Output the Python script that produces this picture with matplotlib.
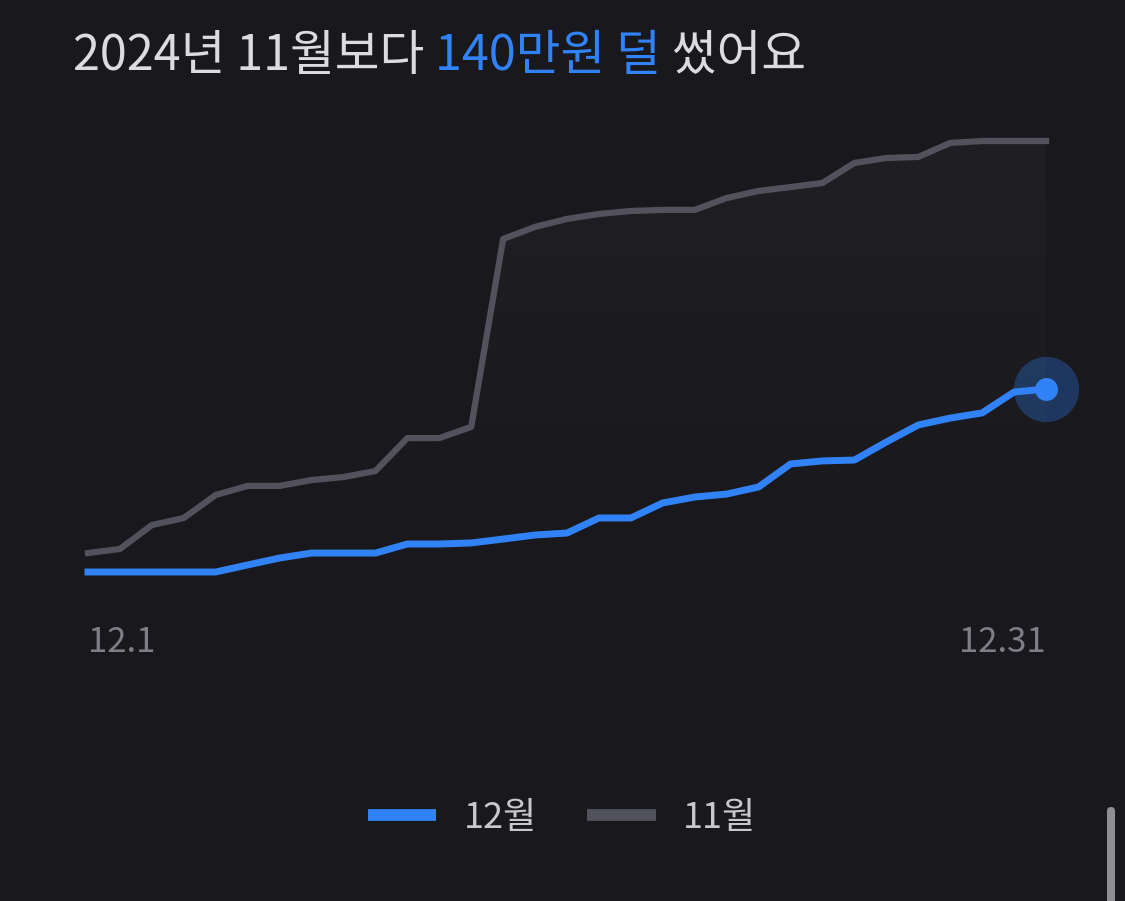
import matplotlib.pyplot as plt
import numpy as np
from matplotlib.colors import LinearSegmentedColormap
from matplotlib.patches import Polygon, FancyBboxPatch
from matplotlib.lines import Line2D
from matplotlib.transforms import IdentityTransform

plt.rcParams['font.family'] = ['Noto Sans CJK KR', 'DejaVu Sans']

# 누적 지출 (만원), 일자별
days = np.arange(1, 32)
nov = [26.5, 28.8, 42.3, 46.3, 59.3, 64.4, 64.4, 67.7, 69.4, 72.8,
       91.4, 91.4, 97.7, 203.8, 210.6, 215.1, 217.9, 219.6, 220.2, 220.2,
       226.9, 230.9, 233.1, 235.4, 246.7, 249.5, 250.1, 258.0, 259.1, 259.1,
       259.1]
dec = [15.8, 15.8, 15.8, 15.8, 15.8, 19.8, 23.7, 26.5, 26.5, 26.5,
       31.6, 31.6, 32.2, 34.4, 36.7, 37.8, 46.3, 46.3, 54.8, 58.1,
       59.8, 63.8, 76.8, 78.5, 79.0, 89.2, 98.8, 102.7, 105.6, 117.4,
       119.1]
tick_days = [1, 31]
tick_labels = ["12.1", "12.31"]

bg = '#18181d'
blue = '#3182f6'
grey = '#52525d'
ymax = 265.3

fig = plt.figure(figsize=(11.25, 9.01), dpi=100, facecolor=bg)
ax = fig.add_axes([88 / 1125, 301 / 901, 958 / 1125, 470 / 901])
ax.set_facecolor('none')

# 11월 아래 은은한 그라데이션
grad = np.linspace(1, 0, 256).reshape(-1, 1)
cmap = LinearSegmentedColormap.from_list('fade', [(1, 1, 1, 0), (1, 1, 1, 0.032)])
im = ax.imshow(grad, extent=[1, 31, 0, ymax], aspect='auto', cmap=cmap, zorder=1)
poly = Polygon(list(zip(days, nov)) + [(31, 0), (1, 0)], closed=True,
               facecolor='none', edgecolor='none', transform=ax.transData)
ax.add_patch(poly)
im.set_clip_path(poly)

ax.plot(days, nov, color=grey, lw=4.5, zorder=2, clip_on=False)
ax.plot(days, dec, color=blue, lw=5, zorder=3, clip_on=False)
ax.plot(days[-1], dec[-1], 'o', ms=47, color=blue, alpha=0.3, mew=0, zorder=4, clip_on=False)
ax.plot(days[-1], dec[-1], 'o', ms=16.5, color=blue, mew=0, zorder=5, clip_on=False)

ax.set_xlim(1, 31)
ax.set_ylim(0, ymax)
ax.set_xticks(tick_days)
ax.set_xticklabels(tick_labels, fontsize=25, color='#7e7e87')
ax.get_xticklabels()[0].set_ha('left')
ax.get_xticklabels()[1].set_ha('right')
ax.tick_params(axis='x', length=0, pad=18)
ax.set_yticks([])
for s in ax.spines.values():
    s.set_visible(False)

# 제목 (색이 섞인 문장)
parts = [("2024년 11월보다 ", '#dcdce0'), ("140만원 덜", blue), (" 썼어요", '#dcdce0')]
fig.canvas.draw()
x = 73 / 1125
for txt, col in parts:
    t = fig.text(x, 1 - 56 / 901, txt, fontsize=35, color=col, va='center', ha='left')
    fig.canvas.draw()
    bb = t.get_window_extent()
    x = bb.x1 / fig.bbox.width

# 범례
handles = [Line2D([], [], color=blue, lw=8.5, solid_capstyle='butt'),
           Line2D([], [], color=grey, lw=8.5, solid_capstyle='butt')]
leg = fig.legend(handles, ["12월", "11월"], loc='center', bbox_to_anchor=(562 / 1125, 1 - 818 / 901),
                 ncol=2, frameon=False, fontsize=26, handlelength=1.9, handletextpad=0.75,
                 columnspacing=1.4)
for t in leg.get_texts():
    t.set_color('#c8c8cc')

# 화면 스크롤바
fig.add_artist(FancyBboxPatch((1107, -10), 8, 104, boxstyle='round,pad=0,rounding_size=4',
                              transform=IdentityTransform(), color='#8e8e93', lw=0))

fig.savefig('out.png', dpi=100, facecolor=bg)
